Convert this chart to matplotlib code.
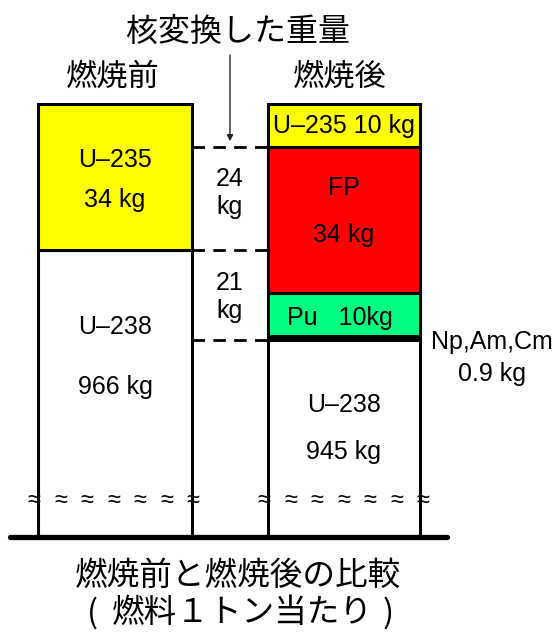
import matplotlib.pyplot as plt

# 燃料1トン当たりの組成 (kg)
before_names = ["U–238", "U–235"]
before_kg = [966, 34]
after_names = ["U–238", "Np,Am,Cm", "Pu", "FP", "U–235"]
after_kg = [945, 0.9, 10, 34, 10]

before_colors = ["white", "#FFFF00"]
after_colors = ["white", "black", "#00FF80", "#FF0000", "#FFFF00"]

LATIN = ["Liberation Sans", "DejaVu Sans"]
CJK = ["Noto Sans CJK JP", "DejaVu Sans"]

fig = plt.figure(figsize=(5.6, 6.33), dpi=100)
# y軸は 899-1001 kg のみ表示 (U-238 の下側は省略)
ax = fig.add_axes([0, 96 / 633, 1, 437.3 / 633])
ax.set_xlim(0, 560)
ax.set_ylim(899, 1001)
ax.axis("off")

x_before, x_after = 115, 344
w_before, w_after = 154, 152


def stack(x, w, vals, colors):
    bottom = 0
    for v, c in zip(vals, colors):
        ax.bar(x, v, width=w, bottom=bottom, color=c,
               edgecolor="black", linewidth=2.2, zorder=2)
        bottom += v


stack(x_before, w_before, before_kg, before_colors)
stack(x_after, w_after, after_kg, after_colors)

# 基準線
ax.plot([10, 447], [899, 899], color="black", lw=3.8,
        solid_capstyle="round", clip_on=False, zorder=4)

# 省略記号
for xs in (x_before - w_before / 2, x_after - w_after / 2):
    for i in range(7):
        ax.text(xs - 4 + i * 26.5, 907.4, "≈", ha="center", va="center",
                fontsize=17, family=LATIN, zorder=5)

# 核変換した量を示す破線
gap_l = x_before + w_before / 2
gap_r = x_after - w_after / 2
levels = [sum(before_kg) - after_kg[-1], before_kg[0], after_kg[0]]
ax.hlines(levels, gap_l, gap_r, colors="black", linestyles=(0, (4.5, 3)),
          lw=2, zorder=3)
mid = (gap_l + gap_r) / 2
ax.text(mid, 979.3, f"{before_kg[1] - after_kg[-1]}\nkg", ha="center",
        va="center", fontsize=18, family=LATIN, linespacing=1.2)
ax.text(mid, 955.0, f"{before_kg[0] - after_kg[0]}\nkg", ha="center",
        va="center", fontsize=18, family=LATIN, linespacing=1.2)
ax.annotate("", xy=(mid, 991.3), xytext=(mid, 1011.4),
            arrowprops=dict(arrowstyle="-|>", color="#222222", lw=1,
                            mutation_scale=9, shrinkA=0, shrinkB=0),
            annotation_clip=False)

# 棒内のラベル
kw = dict(ha="center", va="center", fontsize=18, family=LATIN, zorder=6)
ax.text(x_before, 986.9, before_names[1], **kw)
ax.text(x_before, 977.6, f"{before_kg[1]} kg", **kw)
ax.text(x_before, 948.0, before_names[0], **kw)
ax.text(x_before, 934.0, f"{before_kg[0]} kg", **kw)

ax.text(x_after, 994.9, f"{after_names[4]} {after_kg[4]} kg", **kw)
ax.text(x_after, 980.4, after_names[3], **kw)
ax.text(x_after, 969.4, f"{after_kg[3]} kg", **kw)
ax.text(x_after - 4, 950.1, f"{after_names[2]}   {after_kg[2]}kg", **kw)
ax.text(x_after, 929.8, after_names[0], **kw)
ax.text(x_after, 918.8, f"{after_kg[0]} kg", **kw)
ax.text(492, 944.5, after_names[1], **kw)
ax.text(492, 937.0, f"{after_kg[1]} kg", **kw)

# 見出し
fig.text(238 / 560, 1 - 32 / 633, "核変換した重量", ha="center", va="center",
         fontsize=23, family=CJK)
fig.text(113 / 560, 1 - 77 / 633, "燃焼前", ha="center", va="center",
         fontsize=22.5, family=CJK)
fig.text(340 / 560, 1 - 77 / 633, "燃焼後", ha="center", va="center",
         fontsize=22.5, family=CJK)
fig.text(238 / 560, 1 - 576 / 633, "燃焼前と燃焼後の比較", ha="center",
         va="center", fontsize=23.5, family=CJK)
y2 = 1 - 613 / 633
fig.text(242 / 560, y2, "燃料１トン当たり", ha="center", va="center",
         fontsize=23.5, family=CJK)
fig.text(92 / 560, y2, "(", ha="center", va="center", fontsize=23.5,
         family=CJK)
fig.text(388 / 560, y2, ")", ha="center", va="center", fontsize=23.5,
         family=CJK)

fig.savefig("out.png", dpi=100, facecolor="white")
